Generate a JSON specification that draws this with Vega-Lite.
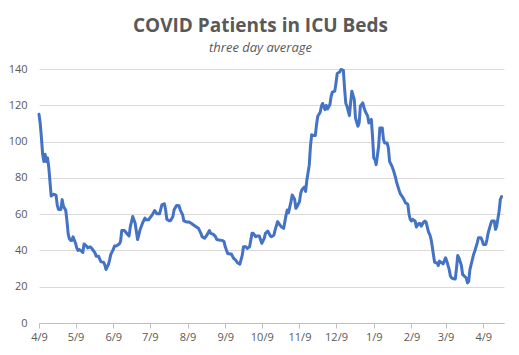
{
  "$schema": "https://vega.github.io/schema/vega-lite/v6.json",
  "autosize": "none",
  "width": 465,
  "height": 254,
  "padding": {"left": 39, "top": 69, "right": 15, "bottom": 32},
  "background": "white",
  "title": {
    "text": "COVID Patients in ICU Beds",
    "subtitle": "three day average",
    "anchor": "middle",
    "dx": -11,
    "offset": 8,
    "font": "Open Sans",
    "fontSize": 19,
    "fontWeight": "bold",
    "color": "#595959",
    "subtitleFont": "Open Sans",
    "subtitleFontSize": 13,
    "subtitleFontStyle": "italic",
    "subtitleColor": "#595959",
    "subtitlePadding": 6
  },
  "config": {
    "view": {"stroke": null},
    "axis": {"labelFont": "Open Sans", "labelFontSize": 11, "labelColor": "#595959"}
  },
  "data": {
    "values": [
      {"date": "2020-04-09", "icu": 115}, {"date": "2020-04-10", "icu": 110}, {"date": "2020-04-11", "icu": 102},
      {"date": "2020-04-12", "icu": 93}, {"date": "2020-04-13", "icu": 89}, {"date": "2020-04-14", "icu": 93},
      {"date": "2020-04-15", "icu": 89}, {"date": "2020-04-16", "icu": 91}, {"date": "2020-04-17", "icu": 86},
      {"date": "2020-04-18", "icu": 78}, {"date": "2020-04-19", "icu": 70}, {"date": "2020-04-20", "icu": 70.5},
      {"date": "2020-04-21", "icu": 71}, {"date": "2020-04-23", "icu": 70.5}, {"date": "2020-04-24", "icu": 65},
      {"date": "2020-04-25", "icu": 62.6}, {"date": "2020-04-27", "icu": 62.6}, {"date": "2020-04-28", "icu": 68},
      {"date": "2020-04-29", "icu": 64.5}, {"date": "2020-05-01", "icu": 62}, {"date": "2020-05-02", "icu": 56},
      {"date": "2020-05-03", "icu": 49}, {"date": "2020-05-04", "icu": 46.4}, {"date": "2020-05-05", "icu": 45.5},
      {"date": "2020-05-06", "icu": 45.5}, {"date": "2020-05-07", "icu": 47.5}, {"date": "2020-05-09", "icu": 44},
      {"date": "2020-05-10", "icu": 41.4}, {"date": "2020-05-11", "icu": 40}, {"date": "2020-05-12", "icu": 40.5},
      {"date": "2020-05-14", "icu": 39.6}, {"date": "2020-05-15", "icu": 38.9}, {"date": "2020-05-16", "icu": 43.6},
      {"date": "2020-05-18", "icu": 42.4}, {"date": "2020-05-19", "icu": 41.4}, {"date": "2020-05-21", "icu": 42},
      {"date": "2020-05-22", "icu": 41.4}, {"date": "2020-05-23", "icu": 40.5}, {"date": "2020-05-25", "icu": 38.7},
      {"date": "2020-05-26", "icu": 36.8}, {"date": "2020-05-28", "icu": 36.8}, {"date": "2020-05-29", "icu": 35},
      {"date": "2020-05-30", "icu": 33.7}, {"date": "2020-06-01", "icu": 33.5}, {"date": "2020-06-02", "icu": 32.2},
      {"date": "2020-06-03", "icu": 29.5}, {"date": "2020-06-05", "icu": 32.2}, {"date": "2020-06-06", "icu": 34.8},
      {"date": "2020-06-07", "icu": 37.8}, {"date": "2020-06-09", "icu": 40.5}, {"date": "2020-06-10", "icu": 42.4},
      {"date": "2020-06-11", "icu": 42.4}, {"date": "2020-06-12", "icu": 42.7}, {"date": "2020-06-14", "icu": 43.6},
      {"date": "2020-06-15", "icu": 45}, {"date": "2020-06-16", "icu": 51}, {"date": "2020-06-18", "icu": 51},
      {"date": "2020-06-19", "icu": 50.4}, {"date": "2020-06-20", "icu": 49.4}, {"date": "2020-06-22", "icu": 48},
      {"date": "2020-06-23", "icu": 53}, {"date": "2020-06-25", "icu": 58.7}, {"date": "2020-06-27", "icu": 55},
      {"date": "2020-06-28", "icu": 50.4}, {"date": "2020-06-29", "icu": 46}, {"date": "2020-07-01", "icu": 51.3},
      {"date": "2020-07-03", "icu": 55}, {"date": "2020-07-05", "icu": 57.8}, {"date": "2020-07-06", "icu": 56.9},
      {"date": "2020-07-08", "icu": 56.9}, {"date": "2020-07-09", "icu": 57.8}, {"date": "2020-07-11", "icu": 59.6},
      {"date": "2020-07-13", "icu": 62}, {"date": "2020-07-15", "icu": 60.2}, {"date": "2020-07-17", "icu": 60.2},
      {"date": "2020-07-19", "icu": 65.2}, {"date": "2020-07-21", "icu": 65.7}, {"date": "2020-07-22", "icu": 62.4},
      {"date": "2020-07-23", "icu": 57.2}, {"date": "2020-07-25", "icu": 56.3}, {"date": "2020-07-26", "icu": 56.3},
      {"date": "2020-07-28", "icu": 58.7}, {"date": "2020-07-29", "icu": 62.4}, {"date": "2020-07-31", "icu": 64.8},
      {"date": "2020-08-02", "icu": 64.6}, {"date": "2020-08-03", "icu": 62.4}, {"date": "2020-08-05", "icu": 59.6},
      {"date": "2020-08-06", "icu": 56.3}, {"date": "2020-08-08", "icu": 55.7}, {"date": "2020-08-10", "icu": 55.7},
      {"date": "2020-08-12", "icu": 55}, {"date": "2020-08-14", "icu": 54}, {"date": "2020-08-16", "icu": 53.1},
      {"date": "2020-08-18", "icu": 52.2}, {"date": "2020-08-20", "icu": 49.4}, {"date": "2020-08-21", "icu": 47.6},
      {"date": "2020-08-23", "icu": 46.7}, {"date": "2020-08-25", "icu": 48.5}, {"date": "2020-08-27", "icu": 51},
      {"date": "2020-08-28", "icu": 49.4}, {"date": "2020-08-30", "icu": 49}, {"date": "2020-09-01", "icu": 47.6},
      {"date": "2020-09-02", "icu": 46}, {"date": "2020-09-04", "icu": 45.7}, {"date": "2020-09-07", "icu": 45.4},
      {"date": "2020-09-08", "icu": 44.8}, {"date": "2020-09-09", "icu": 42}, {"date": "2020-09-11", "icu": 38.3},
      {"date": "2020-09-13", "icu": 38}, {"date": "2020-09-14", "icu": 38}, {"date": "2020-09-16", "icu": 35.6},
      {"date": "2020-09-18", "icu": 34.3}, {"date": "2020-09-19", "icu": 33.2}, {"date": "2020-09-21", "icu": 32.4},
      {"date": "2020-09-23", "icu": 37.4}, {"date": "2020-09-24", "icu": 42}, {"date": "2020-09-26", "icu": 42},
      {"date": "2020-09-27", "icu": 41.1}, {"date": "2020-09-29", "icu": 42}, {"date": "2020-10-01", "icu": 49.4},
      {"date": "2020-10-02", "icu": 49.4}, {"date": "2020-10-04", "icu": 47.6}, {"date": "2020-10-05", "icu": 48},
      {"date": "2020-10-07", "icu": 48}, {"date": "2020-10-09", "icu": 43.9}, {"date": "2020-10-11", "icu": 46.6},
      {"date": "2020-10-12", "icu": 49.4}, {"date": "2020-10-14", "icu": 50.7}, {"date": "2020-10-16", "icu": 48},
      {"date": "2020-10-17", "icu": 47.6}, {"date": "2020-10-19", "icu": 48.5}, {"date": "2020-10-20", "icu": 51.3},
      {"date": "2020-10-22", "icu": 55.9}, {"date": "2020-10-24", "icu": 54}, {"date": "2020-10-25", "icu": 53.1},
      {"date": "2020-10-27", "icu": 52.2}, {"date": "2020-10-29", "icu": 59.6}, {"date": "2020-10-30", "icu": 62.3},
      {"date": "2020-10-31", "icu": 60.8}, {"date": "2020-11-02", "icu": 66.9}, {"date": "2020-11-03", "icu": 70.6},
      {"date": "2020-11-05", "icu": 68.2}, {"date": "2020-11-06", "icu": 63.2}, {"date": "2020-11-07", "icu": 64.2},
      {"date": "2020-11-09", "icu": 66.9}, {"date": "2020-11-10", "icu": 71.5}, {"date": "2020-11-11", "icu": 73.4},
      {"date": "2020-11-13", "icu": 74.9}, {"date": "2020-11-14", "icu": 72.5}, {"date": "2020-11-15", "icu": 78.5},
      {"date": "2020-11-17", "icu": 87}, {"date": "2020-11-18", "icu": 97.4}, {"date": "2020-11-19", "icu": 103.8},
      {"date": "2020-11-20", "icu": 103.3}, {"date": "2020-11-22", "icu": 103.3}, {"date": "2020-11-23", "icu": 109.4},
      {"date": "2020-11-24", "icu": 114}, {"date": "2020-11-26", "icu": 116.2}, {"date": "2020-11-27", "icu": 119.5},
      {"date": "2020-11-28", "icu": 121}, {"date": "2020-11-30", "icu": 117.6}, {"date": "2020-12-01", "icu": 119.9},
      {"date": "2020-12-02", "icu": 118}, {"date": "2020-12-04", "icu": 120.4}, {"date": "2020-12-05", "icu": 125},
      {"date": "2020-12-06", "icu": 127.2}, {"date": "2020-12-08", "icu": 127.8}, {"date": "2020-12-09", "icu": 132.4},
      {"date": "2020-12-10", "icu": 137.5}, {"date": "2020-12-12", "icu": 138.3}, {"date": "2020-12-13", "icu": 139.7},
      {"date": "2020-12-15", "icu": 139.4}, {"date": "2020-12-16", "icu": 129.6}, {"date": "2020-12-17", "icu": 121.3},
      {"date": "2020-12-18", "icu": 119.5}, {"date": "2020-12-20", "icu": 114.3}, {"date": "2020-12-21", "icu": 121.3},
      {"date": "2020-12-22", "icu": 127.8}, {"date": "2020-12-24", "icu": 123.2}, {"date": "2020-12-25", "icu": 113},
      {"date": "2020-12-27", "icu": 108.4}, {"date": "2020-12-28", "icu": 110.3}, {"date": "2020-12-29", "icu": 119.5},
      {"date": "2020-12-31", "icu": 121.3}, {"date": "2021-01-01", "icu": 118.6}, {"date": "2021-01-02", "icu": 116.7},
      {"date": "2021-01-04", "icu": 114}, {"date": "2021-01-05", "icu": 110.3}, {"date": "2021-01-07", "icu": 112.2},
      {"date": "2021-01-08", "icu": 102.9}, {"date": "2021-01-09", "icu": 91}, {"date": "2021-01-10", "icu": 90},
      {"date": "2021-01-11", "icu": 87.3}, {"date": "2021-01-13", "icu": 97.4}, {"date": "2021-01-14", "icu": 107.5},
      {"date": "2021-01-16", "icu": 107.5}, {"date": "2021-01-17", "icu": 101.1}, {"date": "2021-01-18", "icu": 99.2},
      {"date": "2021-01-20", "icu": 99.2}, {"date": "2021-01-21", "icu": 96.5}, {"date": "2021-01-22", "icu": 89.1},
      {"date": "2021-01-24", "icu": 86.3}, {"date": "2021-01-25", "icu": 84.5}, {"date": "2021-01-27", "icu": 79.9},
      {"date": "2021-01-28", "icu": 77}, {"date": "2021-01-30", "icu": 72.8}, {"date": "2021-01-31", "icu": 71},
      {"date": "2021-02-02", "icu": 69.1}, {"date": "2021-02-03", "icu": 67.8}, {"date": "2021-02-04", "icu": 66.3},
      {"date": "2021-02-06", "icu": 65.4}, {"date": "2021-02-07", "icu": 59.9}, {"date": "2021-02-08", "icu": 57.1},
      {"date": "2021-02-09", "icu": 56.2}, {"date": "2021-02-10", "icu": 57.1}, {"date": "2021-02-12", "icu": 56.2},
      {"date": "2021-02-13", "icu": 52.9}, {"date": "2021-02-15", "icu": 54.9}, {"date": "2021-02-16", "icu": 54.9},
      {"date": "2021-02-17", "icu": 53.4}, {"date": "2021-02-19", "icu": 55.6}, {"date": "2021-02-20", "icu": 56.2},
      {"date": "2021-02-21", "icu": 55.6}, {"date": "2021-02-23", "icu": 50.1}, {"date": "2021-02-24", "icu": 48.8},
      {"date": "2021-02-25", "icu": 46.4}, {"date": "2021-02-26", "icu": 42.4}, {"date": "2021-02-27", "icu": 37.7},
      {"date": "2021-02-28", "icu": 33.5}, {"date": "2021-03-02", "icu": 33.1}, {"date": "2021-03-03", "icu": 31.7},
      {"date": "2021-03-04", "icu": 34.1}, {"date": "2021-03-06", "icu": 33.1}, {"date": "2021-03-07", "icu": 32.6},
      {"date": "2021-03-09", "icu": 35.9}, {"date": "2021-03-10", "icu": 34.1}, {"date": "2021-03-12", "icu": 29.4},
      {"date": "2021-03-13", "icu": 25.8}, {"date": "2021-03-14", "icu": 24.8}, {"date": "2021-03-16", "icu": 24.3},
      {"date": "2021-03-17", "icu": 24.3}, {"date": "2021-03-18", "icu": 30.4}, {"date": "2021-03-19", "icu": 37.2},
      {"date": "2021-03-20", "icu": 35.9}, {"date": "2021-03-22", "icu": 31.7}, {"date": "2021-03-23", "icu": 26.7},
      {"date": "2021-03-24", "icu": 26.1}, {"date": "2021-03-26", "icu": 24.8}, {"date": "2021-03-27", "icu": 22.1},
      {"date": "2021-03-28", "icu": 23}, {"date": "2021-03-29", "icu": 29.4}, {"date": "2021-03-31", "icu": 35},
      {"date": "2021-04-01", "icu": 37.7}, {"date": "2021-04-02", "icu": 39.6}, {"date": "2021-04-04", "icu": 44.2},
      {"date": "2021-04-05", "icu": 47}, {"date": "2021-04-07", "icu": 47}, {"date": "2021-04-08", "icu": 45.7},
      {"date": "2021-04-09", "icu": 43.3}, {"date": "2021-04-11", "icu": 43.3}, {"date": "2021-04-12", "icu": 46},
      {"date": "2021-04-13", "icu": 49.7}, {"date": "2021-04-15", "icu": 54.4}, {"date": "2021-04-16", "icu": 56.2},
      {"date": "2021-04-18", "icu": 56.2}, {"date": "2021-04-19", "icu": 51.6}, {"date": "2021-04-20", "icu": 53.4},
      {"date": "2021-04-22", "icu": 61.7}, {"date": "2021-04-23", "icu": 68.2}, {"date": "2021-04-24", "icu": 69.7}
    ]
  },
  "mark": {"type": "line", "color": "#4472C4", "strokeWidth": 3, "strokeCap": "round", "strokeJoin": "round"},
  "encoding": {
    "x": {
      "field": "date",
      "type": "temporal",
      "scale": {
        "type": "utc",
        "domain": [
          {"year": 2020, "month": 4, "date": 9, "utc": true},
          {"year": 2021, "month": 4, "date": 26, "utc": true}
        ]
      },
      "axis": {
        "title": null,
        "format": "%-m/%-d",
        "values": [
          {"year": 2020, "month": 4, "date": 9, "utc": true},
          {"year": 2020, "month": 5, "date": 9, "utc": true},
          {"year": 2020, "month": 6, "date": 9, "utc": true},
          {"year": 2020, "month": 7, "date": 9, "utc": true},
          {"year": 2020, "month": 8, "date": 9, "utc": true},
          {"year": 2020, "month": 9, "date": 9, "utc": true},
          {"year": 2020, "month": 10, "date": 9, "utc": true},
          {"year": 2020, "month": 11, "date": 9, "utc": true},
          {"year": 2020, "month": 12, "date": 9, "utc": true},
          {"year": 2021, "month": 1, "date": 9, "utc": true},
          {"year": 2021, "month": 2, "date": 9, "utc": true},
          {"year": 2021, "month": 3, "date": 9, "utc": true},
          {"year": 2021, "month": 4, "date": 9, "utc": true}
        ],
        "grid": false,
        "domainColor": "#bfbfbf",
        "tickColor": "#bfbfbf",
        "tickSize": 5,
        "labelPadding": 3,
        "labelFlush": false,
        "labelOverlap": false
      }
    },
    "y": {
      "field": "icu",
      "type": "quantitative",
      "scale": {"domain": [0, 140], "nice": false},
      "axis": {
        "title": null,
        "values": [0, 20, 40, 60, 80, 100, 120, 140],
        "domain": false,
        "ticks": false,
        "gridColor": "#d9d9d9",
        "labelPadding": 12
      }
    }
  }
}
